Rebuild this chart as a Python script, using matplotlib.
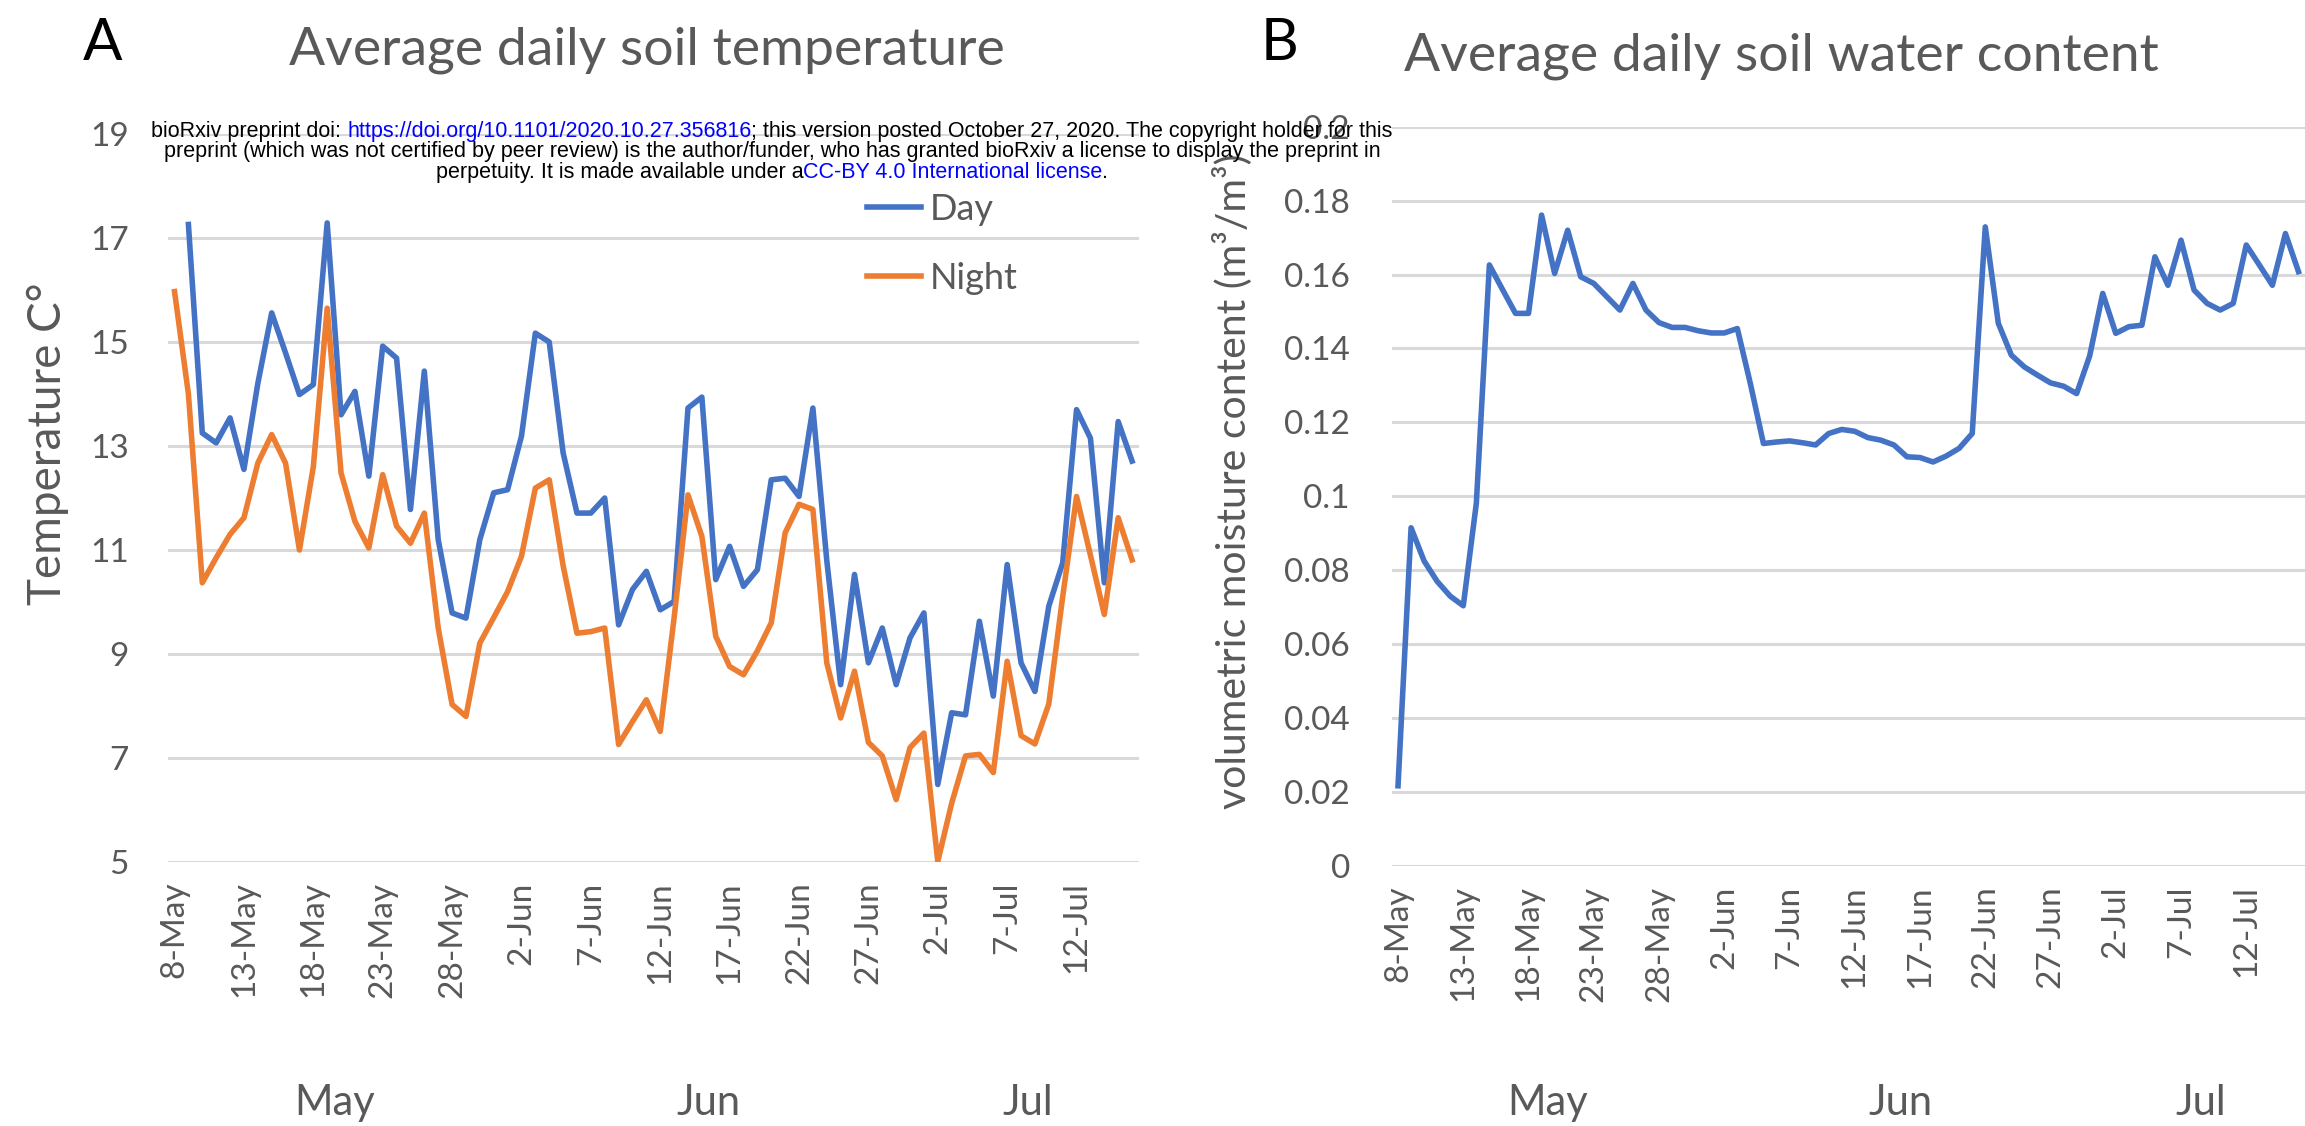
import numpy as np
import pandas as pd
import matplotlib
matplotlib.use("Agg")
import matplotlib.pyplot as plt
import matplotlib.transforms as mtransforms

plt.rcParams['font.family'] = ['Lato', 'DejaVu Sans']

# ---- data ----
dates = pd.date_range("2020-05-08", "2020-07-16")   # 70 days, 8-May .. 16-Jul
tick_every = 5
months = ['May', 'Jun', 'Jul']

day_temp = [np.nan, 17.26, 13.25, 13.06, 13.54, 12.55, 14.2, 15.56, 14.79, 13.99,
            14.18, 17.29, 13.6, 14.05, 12.42, 14.92, 14.69, 11.78, 14.44, 11.2,
            9.79, 9.69, 11.2, 12.1, 12.16, 13.19, 15.17, 15.0, 12.87, 11.71,
            11.71, 12.0, 9.56, 10.24, 10.59, 9.85, 10.01, 13.73, 13.94, 10.43,
            11.07, 10.3, 10.62, 12.35, 12.38, 12.03, 13.73, 10.8, 8.41, 10.53,
            8.83, 9.5, 8.41, 9.31, 9.79, 6.49, 7.87, 7.83, 9.63, 8.19,
            10.72, 8.83, 8.28, 9.92, 10.75, 13.7, 13.15, 10.37, 13.47, 12.71]

night_temp = [15.97, 14.0, 10.37, 10.85, 11.3, 11.62, 12.67, 13.22, 12.67, 11.0,
              12.6, 15.65, 12.48, 11.55, 11.04, 12.45, 11.46, 11.13, 11.71, 9.5,
              8.03, 7.8, 9.21, 9.7, 10.2, 10.88, 12.19, 12.35, 10.7, 9.4,
              9.43, 9.5, 7.26, 7.7, 8.12, 7.51, 9.7, 12.06, 11.26, 9.34,
              8.76, 8.6, 9.06, 9.6, 11.33, 11.88, 11.78, 8.83, 7.77, 8.67,
              7.3, 7.04, 6.2, 7.2, 7.48, 5.01, 6.13, 7.04, 7.07, 6.72,
              8.86, 7.43, 7.27, 8.04, 10.1, 12.03, 10.9, 9.76, 11.62, 10.81]

soil_water = [0.0217, 0.0915, 0.0825, 0.077, 0.073, 0.0704, 0.0981, 0.1626, 0.156, 0.1495,
              0.1495, 0.1761, 0.1603, 0.172, 0.1594, 0.1576, 0.154, 0.1504, 0.1576, 0.1504,
              0.147, 0.1457, 0.1457, 0.1448, 0.1442, 0.1442, 0.1454, 0.1305, 0.1143, 0.1147,
              0.115, 0.1145, 0.1139, 0.117, 0.1181, 0.1176, 0.1159, 0.1152, 0.1139, 0.1107,
              0.1105, 0.1093, 0.1109, 0.113, 0.117, 0.1729, 0.1468, 0.1382, 0.135, 0.1328,
              0.1307, 0.1298, 0.1278, 0.138, 0.1549, 0.1441, 0.1459, 0.1463, 0.1648, 0.1571,
              0.1693, 0.1558, 0.1522, 0.1504, 0.1522, 0.168, 0.1626, 0.1571, 0.1711, 0.1608]

BLUE = '#4472C4'
ORANGE = '#ED7D31'
GREY = '#595959'
GRID = '#d9d9d9'

x = np.arange(len(dates))
tick_pos = x[::tick_every]
tick_lab = [f"{d.day}-{d.strftime('%b')}" for d in dates[::tick_every]]

W, H = 2305, 1126
fig = plt.figure(figsize=(W / 100, H / 100), dpi=100)

axA = fig.add_axes([167.6 / W, 1 - 862 / H, (1139 - 167.6) / W, (862 - 134) / H])
axB = fig.add_axes([1391.5 / W, 1 - 866 / H, (W - 1391.5) / W, (866 - 126.7) / H])


def style(ax, ypad):
    ax.set_xlim(-0.5, len(dates) - 0.5)
    for s in ax.spines.values():
        s.set_visible(False)
    ax.yaxis.grid(True, color=GRID, lw=2.2)
    ax.set_axisbelow(True)
    ax.set_xticks(tick_pos)
    ax.set_xticklabels(tick_lab, rotation=90, va='top', ha='center')
    ax.tick_params(axis='x', length=0, pad=14, labelsize=24, labelcolor=GREY)
    ax.tick_params(axis='y', length=0, pad=ypad, labelsize=24, labelcolor=GREY)
    # month group labels below the dates
    tr = mtransforms.blended_transform_factory(ax.transData, fig.transFigure)
    for m in months:
        idx = np.where(dates.strftime('%b') == m)[0]
        ax.text((idx[0] + idx[-1]) / 2, 1 - 1103 / H, m, transform=tr,
                ha='center', va='center', fontsize=30, color=GREY)


# ---- panel A ----
axA.plot(x, day_temp, color=BLUE, lw=4, label='Day')
axA.plot(x, night_temp, color=ORANGE, lw=4, label='Night')
axA.set_ylim(5, 19)
axA.set_yticks(np.arange(5, 20, 2))
style(axA, 28)
axA.legend(loc='upper left', bbox_to_anchor=(834 / W, 1 - 160 / H), bbox_transform=fig.transFigure,
           frameon=False, fontsize=26, labelcolor=GREY, handlelength=1.5, handletextpad=0.25,
           labelspacing=1.0)
fig.text(48 / W, 1 - 444 / H, 'Temperature C°', rotation=90, ha='center', va='center',
         fontsize=33, color=GREY)
fig.text(647 / W, 1 - 50 / H, 'Average daily soil temperature', ha='center', va='center',
         fontsize=38.5, color=GREY)
fig.text(103 / W, 1 - 44 / H, 'A', ha='center', va='center', fontsize=42, color='black')

# ---- panel B ----
axB.plot(x, soil_water, color=BLUE, lw=4)
axB.set_ylim(0, 0.2)
axB.set_yticks(np.arange(0, 0.201, 0.02))
axB.set_yticklabels(['0' if v == 0 else f"{v:.2f}".rstrip('0') for v in np.arange(0, 0.201, 0.02)])
style(axB, 30)
fig.text(1232 / W, 1 - 481 / H, 'volumetric moisture content (m³/m³)', rotation=90,
         ha='center', va='center', fontsize=29.5, color=GREY)
fig.text(1781 / W, 1 - 56 / H, 'Average daily soil water content', ha='center', va='center',
         fontsize=38.5, color=GREY)
fig.text(1279 / W, 1 - 44 / H, 'B', ha='center', va='center', fontsize=42, color='black')

# ---- bioRxiv header ----
hdr = [
    [("bioRxiv preprint doi: ", 'black'), ("https://doi.org/10.1101/2020.10.27.356816", 'blue'),
     ("; this version posted October 27, 2020. The copyright holder for this", 'black')],
    [("preprint (which was not certified by peer review) is the author/funder, who has granted bioRxiv a license to display the preprint in", 'black')],
    [("perpetuity. It is made available under a", 'black'), ("CC-BY 4.0 International license", 'blue'),
     (".", 'black')],
]
renderer = fig.canvas.get_renderer()
cx = 772
for i, parts in enumerate(hdr):
    y = 1 - (131 + 20.5 * i) / H
    texts = [fig.text(0, y, s, color=c, fontsize=15.5, family='Liberation Sans',
                      ha='left', va='center') for s, c in parts]
    widths = [t.get_window_extent(renderer).width for t in texts]
    xx = cx - sum(widths) / 2
    for t, w in zip(texts, widths):
        t.set_x(xx / W)
        xx += w

fig.savefig('out.png', dpi=100)
